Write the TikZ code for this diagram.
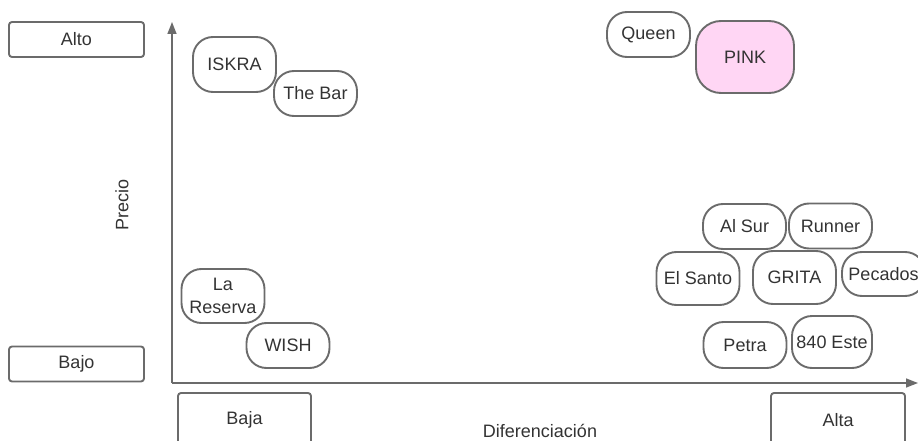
\documentclass[tikz,border=0pt]{standalone}
\usepackage{fontspec}
\setmainfont{Liberation Sans}
\usetikzlibrary{arrows.meta}
\definecolor{edge}{HTML}{6B6B6B}
\definecolor{ink}{HTML}{333333}
\definecolor{pinkfill}{HTML}{FFD6F4}

\begin{document}
\begin{tikzpicture}[x=1pt, y=-1pt, font=\fontsize{18}{23}\selectfont,
    brand/.style={draw=edge, line width=1.9pt, rounded corners=20pt, text=ink,
        minimum width=83pt, minimum height=45pt, inner sep=1pt, align=center},
    level/.style={draw=edge, line width=1.9pt, rounded corners=3pt, text=ink,
        minimum width=135pt, minimum height=35pt},
    axis/.style={draw=edge, line width=1.5pt, -{Triangle[length=12pt,width=9pt]}}]
\clip (0,0) rectangle (918,441);
% axes
\coordinate (o) at (172,383);
\coordinate (ytop) at (172,22);
\coordinate (xend) at (918,383);
\draw[axis] (o) -- (ytop);
\draw[axis] (o) -- (xend);
\node[text=ink, rotate=90] (precio) at (122,205) {Precio};
\node[text=ink] (difer) at (540,431) {Diferenciación};
% level boxes
\node[level] (alto) at (76.5,39.5) {Alto};
\node[level] (bajo) at (76.5,364) {Bajo};
\node[level, minimum width=133pt, minimum height=54pt] (baja) at (244.5,420) {Baja};
\node[level, minimum width=134pt, minimum height=54pt] (alta) at (838,420) {Alta};
% brands
\node[brand, minimum height=55pt] (iskra) at (234.5,64.5) {ISKRA};
\node[brand] (thebar) at (315.5,93.5) {The Bar};
\node[brand] (queen) at (648.5,34.5) {Queen};
\node[brand, fill=pinkfill, rounded corners=25pt, minimum width=98pt, minimum height=72pt] (pink) at (745,57) {PINK};
\node[brand] (alsur) at (744.5,226.5) {Al Sur};
\node[brand] (runner) at (830.5,226) {Runner};
\node[brand, minimum height=53pt] (elsanto) at (698,278.5) {El Santo};
\node[brand, minimum height=53pt] (grita) at (794.5,277.5) {GRITA};
\node[brand, minimum height=44pt] (pecados) at (883.5,274) {Pecados};
\node[brand, minimum height=46pt] (petra) at (745,345) {Petra};
\node[brand, minimum width=80pt, minimum height=52pt] (este) at (832,342) {840 Este};
\node[brand, minimum height=54pt] (reserva) at (223,296) {La\\Reserva};
\node[brand] (wish) at (288,345.5) {WISH};
\end{tikzpicture}
\end{document}
